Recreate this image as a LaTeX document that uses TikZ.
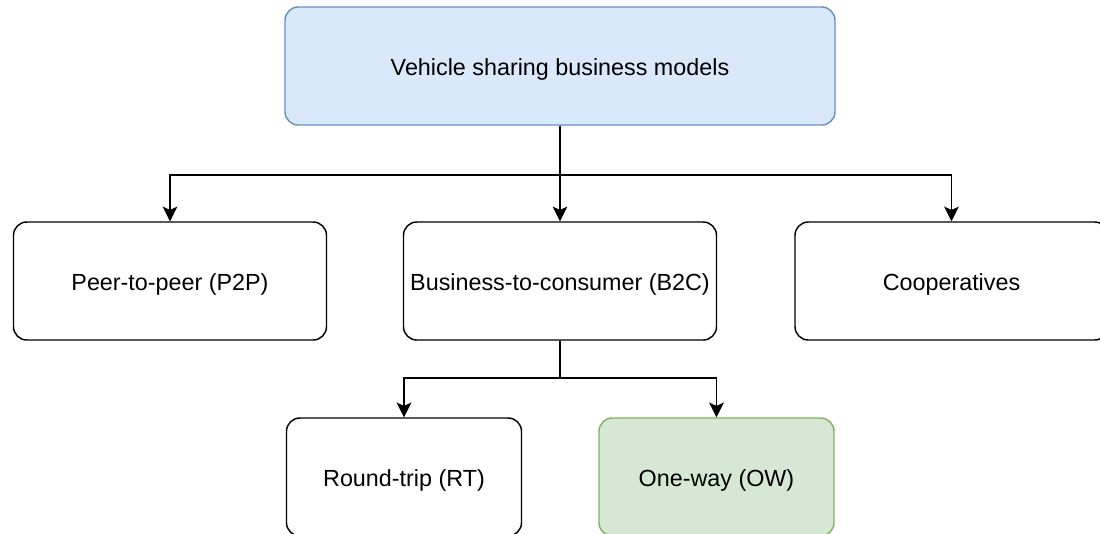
\documentclass[tikz,border=0pt]{standalone}
\usepackage{fontspec}
\setmainfont{Liberation Sans}
\usetikzlibrary{arrows.meta}
\definecolor{modelfill}{HTML}{DAE8FC}
\definecolor{modelline}{HTML}{6C8EBF}
\definecolor{owfill}{HTML}{D5E8D4}
\definecolor{owline}{HTML}{82B366}
\tikzset{every picture/.style={line width=1.1pt}}
\tikzset{
  box/.style={draw=black, fill=white, rounded corners=10pt, align=center,
    minimum height=88.5pt, inner sep=0pt, text height=14pt, text depth=0pt,
    font=\fontsize{17.5}{21}\selectfont},
  widebox/.style={box, minimum width=234.75pt},
  smallbox/.style={box, minimum width=176.25pt},
  arr/.style={-{Stealth[length=11pt, width=11pt, inset=2.5pt]}}
}

\begin{document}
\begin{tikzpicture}[x=0.75pt,y=0.75pt,yscale=-1,xscale=1]
      \clip (0,0) rectangle (1100,533);
      \fill [white] (0,0) rectangle (1100,533);
      % root
      \node [box, fill=modelfill, draw=modelline, minimum width=412.5pt] (models) at (560,66) {Vehicle sharing business models};
      % first level
      \node [widebox] (ptp) at (170,281) {Peer-to-peer (P2P)};
      \node [widebox] (btc) at (560,281) {Business-to-consumer (B2C)};
      \node [widebox] (coop) at (951.5,281) {Cooperatives};
      % second level under B2C
      \node [smallbox] (rt) at (404,477) {Round-trip (RT)};
      \node [smallbox, fill=owfill, draw=owline] (ow) at (716.5,477) {One-way (OW)};

      \coordinate (fork1) at (560,175);
      \coordinate (fork2) at (560,378);
      \draw [arr] (models.south) -- (fork1) -| (ptp.north);
      \draw [arr] (models.south) -- (btc.north);
      \draw [arr] (fork1) -| (coop.north);
      \draw [arr] (btc.south) -- (fork2) -| (rt.north);
      \draw [arr] (fork2) -| (ow.north);
\end{tikzpicture}
\end{document}
